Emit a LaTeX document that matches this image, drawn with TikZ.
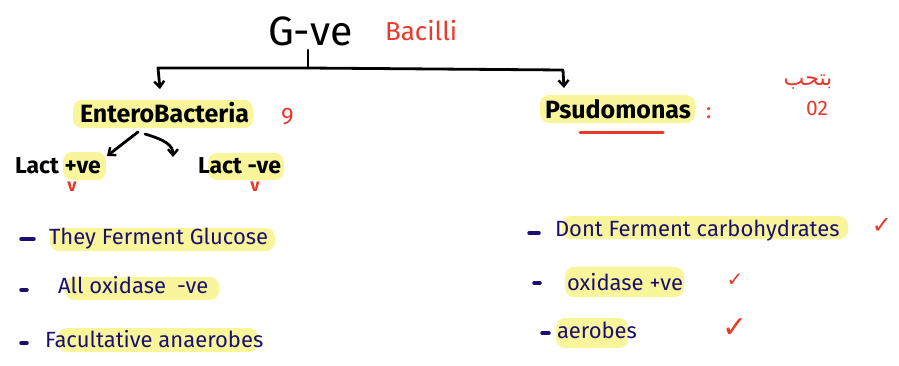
\documentclass[tikz,border=0pt]{standalone}
\usepackage{fontspec}
\setmainfont{Fira Sans}
\newfontfamily\arabicfont[Script=Arabic]{DejaVu Sans}
\newfontfamily\symfont{DejaVu Sans}
\TeXXeTstate=1
\usetikzlibrary{arrows.meta}
\definecolor{navyink}{HTML}{1C106E}
\definecolor{redink}{HTML}{E8392A}
\definecolor{hlyellow}{HTML}{F8F59B}
\tikzset{
  txt/.style={anchor=base west, inner sep=0pt, outer sep=0pt},
  head/.style={txt, font=\fontsize{25}{28}\selectfont\bfseries, text=black},
  sub/.style={txt, font=\fontsize{23}{26}\selectfont\bfseries, text=black},
  bullet/.style={txt, font=\fontsize{22}{26}\selectfont, text=navyink},
  redtxt/.style={inner sep=0pt, text=redink},
  hl/.style={fill=hlyellow, rounded corners=9pt},
  conn/.style={line width=2.8pt, line cap=round, line join=round, black},
  arr/.style={conn, -{Straight Barb[length=6pt,width=10pt,line width=2.4pt]}},
  dashmark/.style={line width=3.5pt, line cap=round, navyink},
  tick/.style={inner sep=0pt, text=redink, font=\symfont\bfseries}
}
\begin{document}
\begin{tikzpicture}[x=1pt,y=-1pt]
\useasboundingbox (0,0) rectangle (899,365);
% highlights
\fill[hl] (73,100) rectangle (253,128);
\fill[hl] (540,95) rectangle (695,123);
\fill[hl] (63,152) rectangle (106,180);
\fill[hl] (208,153) rectangle (284,180);
\fill[hl] (50,228) rectangle (275,251);
\fill[hl] (65,277) rectangle (219,300);
\fill[hl] (58,328) rectangle (258,352);
\fill[hl] (562,216) rectangle (848,239);
\fill[hl] (565,267) rectangle (684,297);
\fill[hl] (556,318) rectangle (628,348);

% titles
\node[txt, font=\fontsize{41}{44}\selectfont, text=black] (gve) at (268,45) {G-ve};
\node[txt, font=\fontsize{26}{30}\selectfont, text=redink] (bacilli) at (385,40) {Bacilli};

% main tree connector
\coordinate (stem) at (308,50);
\coordinate (jn) at (308,68);
\coordinate (cl) at (158,68);
\coordinate (el) at (160,89);
\coordinate (cr) at (563,70);
\coordinate (er) at (564,88);
\draw[conn] (stem) -- (jn);
\draw[arr] (jn) -- (cl) -- (el);
\draw[arr] (jn) -- (cr) -- (er);

% headings
\node[head] (entero) at (80,122) {EnteroBacteria};
\node[redtxt, anchor=base west, font=\fontsize{24}{28}\selectfont] (nine) at (281,124) {9};
\node[head] (pseudo) at (545,118) {Psudomonas};
\node[redtxt, anchor=base west, font=\fontsize{22}{24}\selectfont] (colon) at (706,118) {:};
\draw[redink, line width=3pt, line cap=round] (580,132) -- (663,132);
\node[redtxt, font=\arabicfont\fontsize{22}{26}\selectfont] (arab) at (808,82) {\beginR بتحب\endR};
\node[redtxt, font=\fontsize{21}{24}\selectfont] (otwo) at (817,108) {02};

% lact branches
\coordinate (a1s) at (138,132);
\coordinate (a1e) at (107,156);
\coordinate (a2s) at (145,134);
\coordinate (a2e) at (173,157);
\draw[arr] (a1s) .. controls (125,142) .. (a1e);
\draw[arr] (a2s) .. controls (165,140) and (173,145) .. (a2e);
\node[sub] (lactp) at (15,173) {Lact +ve};
\node[sub] (lactn) at (198,173) {Lact -ve};
\node[redtxt, anchor=north, font=\fontsize{18}{20}\selectfont\bfseries] (vl) at (72,182) {v};
\node[redtxt, anchor=north, font=\fontsize{18}{20}\selectfont\bfseries] (vr) at (255,182) {v};

% left bullets
\draw[dashmark] (21,239) -- (34,239);
\node[bullet] (l1) at (49,244) {They Ferment Glucose};
\draw[dashmark] (21,290) -- (27,290);
\node[bullet] (l2) at (58,293) {All oxidase\enspace -ve};
\draw[dashmark] (21,343) -- (27,343);
\node[bullet] (l3) at (45,347) {Facultative anaerobes};

% right bullets
\draw[dashmark] (529,233) -- (539,233);
\node[bullet] (r1) at (555,236) {Dont Ferment carbohydrates};
\node[tick, font=\symfont\fontsize{24}{26}\selectfont] (t1) at (882,226) {✓};
\draw[dashmark] (534,283) -- (540,283);
\node[bullet] (r2) at (567,290) {oxidase +ve};
\node[tick, font=\symfont\fontsize{20}{22}\selectfont] (t2) at (735,280) {✓};
\draw[dashmark] (542,333) -- (549,333);
\node[bullet] (r3) at (557,338) {aerobes};
\node[tick, font=\symfont\fontsize{30}{32}\selectfont] (t3) at (735,328) {✓};
\end{tikzpicture}
\end{document}
